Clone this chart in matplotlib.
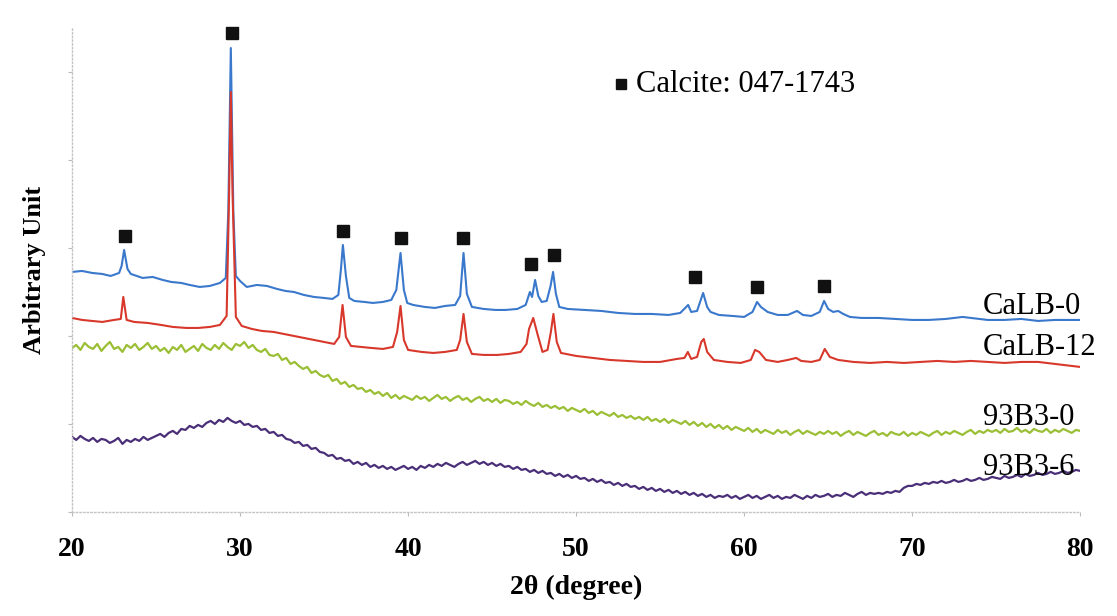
import matplotlib
matplotlib.use("Agg")
import matplotlib.pyplot as plt
import numpy as np

plt.rcParams["font.family"] = ["Liberation Serif", "DejaVu Serif"]

# CaLB-0 (blue)
calb0_x = [20.0, 20.6, 21.2, 21.8, 22.3, 22.8, 22.95, 23.1, 23.3, 23.5, 24.2, 24.8, 25.4, 25.9,
           26.5, 27.0, 27.6, 28.2, 28.8, 29.15, 29.3, 29.45, 29.6, 29.75, 30.0, 30.4, 31.0, 31.6,
           32.2, 32.7, 33.2, 33.8, 34.4, 35.0, 35.5, 35.85, 36.0, 36.12, 36.3, 36.5, 36.8, 37.4,
           37.9, 38.5, 39.0, 39.3, 39.55, 39.75, 39.95, 40.3, 41.0, 41.6, 42.2, 42.8, 43.1, 43.3,
           43.5, 43.8, 44.5, 45.2, 45.8, 46.5, 47.0, 47.25, 47.38, 47.56, 47.75, 47.95, 48.25,
           48.48, 48.63, 48.8, 49.0, 49.5, 50.5, 51.5, 52.5, 53.5, 54.5, 55.5, 56.2, 56.67, 56.85,
           57.2, 57.56, 57.8, 58.0, 58.5, 59.3, 60.0, 60.5, 60.77, 61.0, 61.4, 62.0, 62.6, 63.15,
           63.5, 64.0, 64.5, 64.76, 65.0, 65.3, 65.6, 65.9, 66.3, 67.0, 68.0, 69.0, 70.0, 71.0,
           72.0, 73.0, 73.5, 74.5, 75.5, 76.5, 77.5, 78.5, 80.0]
calb0_y = [240, 241, 239, 238, 236, 239, 246, 262, 243, 238, 234, 235, 232, 230,
           229, 227, 225, 226, 229, 234, 300, 464, 300, 236, 231, 225, 227, 226,
           223, 221, 220, 217, 215, 214, 213, 217, 242, 267, 236, 214, 211, 210,
           209, 210, 212, 222, 259, 222, 209, 207, 205, 204, 206, 207, 216, 259,
           218, 205, 203, 202, 202, 203, 207, 220, 215, 232, 216, 210, 211,
           226, 240, 218, 205, 203, 202, 201, 199, 198, 198, 197, 199, 207, 200,
           201, 219, 205, 200, 197, 196, 195, 200, 210, 205, 200, 197, 197, 201,
           197, 196, 200, 211, 203, 200, 201, 198, 195, 194, 194, 193, 192, 192,
           193, 195, 194, 192, 192, 193, 191, 192, 192]

# CaLB-12 (red)
calb12_x = [20.0, 20.6, 21.2, 21.8, 22.5, 22.9, 23.05, 23.25, 23.7, 24.5, 25.3, 26.0, 26.8,
            27.5, 28.2, 28.8, 29.2, 29.35, 29.45, 29.55, 29.75, 30.1, 30.7, 31.3, 32.0, 32.6,
            33.2, 33.8, 34.4, 35.0, 35.6, 35.9, 36.1, 36.3, 36.6, 37.2, 37.8, 38.5, 39.1, 39.35,
            39.55, 39.75, 40.0, 40.8, 41.5, 42.2, 42.9, 43.1, 43.3, 43.5, 43.8, 44.5, 45.3, 46.0,
            46.7, 47.05, 47.2, 47.45, 47.7, 48.0, 48.3, 48.5, 48.65, 48.85, 49.1, 50.0, 51.0,
            52.0, 53.0, 54.0, 55.0, 56.0, 56.45, 56.65, 56.85, 57.2, 57.45, 57.6, 57.8, 58.2,
            59.0, 59.8, 60.4, 60.65, 60.9, 61.3, 62.0, 62.6, 63.1, 63.4, 64.0, 64.5, 64.8, 65.1,
            65.6, 66.5, 67.5, 68.5, 69.5, 70.5, 71.5, 72.5, 73.5, 74.5, 75.5, 76.5, 77.5, 78.5,
            80.0]
calb12_y = [194, 192, 191, 190, 192, 193, 215, 192, 190, 189, 187, 185, 184,
            184, 185, 187, 196, 320, 420, 320, 195, 186, 183, 181, 180, 178,
            176, 174, 172, 170, 168, 175, 207, 175, 166, 165, 164, 163, 165, 180,
            206, 172, 162, 160, 159, 160, 162, 172, 198, 170, 158, 157, 157, 158,
            160, 168, 183, 194, 178, 160, 162, 180, 198, 170, 159, 156, 154,
            152, 151, 150, 150, 153, 154, 160, 153, 155, 170, 173, 160, 152,
            150, 149, 152, 162, 160, 152, 150, 152, 154, 151, 150, 152, 163, 155,
            152, 150, 149, 150, 149, 150, 151, 150, 151, 150, 149, 150, 150, 148,
            145]

# 93B3-0 (green), read every 0.25 degree
b30_x = np.arange(20.0, 80.01, 0.25)
b30_y = [164, 167, 162, 169, 165, 163, 168, 161, 166, 170, 163, 165, 160, 167, 164, 168, 162, 165, 169, 163,
         166, 161, 164, 159, 165, 162, 167, 160, 163, 166, 161, 168, 164, 162, 167, 163, 169, 165, 162, 168,
         166, 170, 164, 167, 162, 160, 163, 157, 156, 158, 152, 154, 148, 150, 146, 143, 145, 139, 141, 137,
         135, 137, 131, 133, 128, 130, 125, 127, 123, 124, 120, 122, 118, 120, 116, 119, 114, 117, 113, 116,
         114, 112, 116, 113, 115, 111, 114, 117, 113, 115, 111, 114, 116, 112, 114, 110, 113, 115, 111, 113,
         110, 113, 109, 112, 111, 108, 110, 107, 111, 108, 106, 109, 105, 107, 104, 106, 103, 105, 101, 104,
         102, 100, 103, 99, 101, 97, 100, 98, 96, 99, 95, 97, 94, 96, 93, 95, 92, 95, 91, 93,
         90, 93, 89, 92, 90, 88, 91, 87, 90, 86, 89, 85, 88, 84, 87, 83, 86, 82, 85, 83,
         81, 84, 80, 83, 79, 82, 80, 78, 82, 79, 81, 77, 80, 82, 78, 81, 79, 77, 80, 78,
         81, 78, 80, 76, 79, 81, 77, 80, 78, 76, 79, 81, 77, 79, 76, 80, 78, 77, 80, 76,
         79, 77, 80, 78, 76, 79, 81, 77, 80, 78, 81, 79, 77, 80, 82, 78, 81, 79, 82, 80,
         82, 79, 83, 80, 81, 84, 80, 82, 79, 83, 81, 80, 83, 79, 82, 80, 83, 81, 79, 82,
         81]

# 93B3-6 (purple), read every 0.25 degree
b36_x = np.arange(20.0, 80.01, 0.25)
b36_y = [75, 72, 76, 73, 71, 74, 70, 73, 72, 69, 71, 74, 68, 72, 70, 73, 71, 75, 72, 74,
         76, 78, 75, 79, 81, 78, 83, 82, 86, 84, 87, 85, 89, 91, 88, 92, 90, 94, 91, 89,
         91, 87, 88, 85, 86, 82, 83, 79, 80, 76, 77, 73, 72, 69, 70, 66, 67, 63, 64, 60,
         59, 56, 57, 53, 54, 51, 52, 48, 50, 47, 49, 45, 47, 44, 46, 43, 45, 42, 44, 46,
         43, 45, 42, 46, 44, 47, 45, 48, 46, 49, 47, 45, 48, 50, 47, 49, 51, 48, 50, 47,
         49, 46, 48, 45, 46, 43, 45, 42, 43, 40, 42, 39, 41, 38, 39, 36, 38, 35, 37, 34,
         36, 33, 34, 31, 33, 30, 32, 29, 30, 27, 29, 26, 28, 25, 26, 23, 25, 22, 24, 21,
         23, 20, 22, 19, 21, 18, 20, 17, 19, 16, 18, 15, 17, 14, 16, 15, 17, 14, 16, 13,
         15, 17, 14, 16, 13, 15, 17, 14, 16, 13, 15, 14, 17, 15, 13, 16, 14, 17, 15, 16,
         18, 15, 17, 16, 19, 17, 15, 18, 20, 17, 19, 18, 19, 18, 20, 19, 21, 20, 24, 26,
         26, 28, 27, 29, 28, 30, 29, 31, 29, 30, 32, 30, 31, 33, 31, 32, 34, 32, 33, 35,
         34, 33, 36, 34, 35, 37, 35, 38, 36, 37, 39, 37, 38, 40, 38, 39, 41, 39, 40, 42,
         41]

# calcite reflection markers
marker_x = [23.15, 29.52, 36.13, 39.58, 43.27, 47.32, 48.69, 57.08, 60.77, 64.76]
marker_y = [276, 479, 281, 274, 274, 248, 257, 235, 225, 226]

curve_names = ["CaLB-0", "CaLB-12", "93B3-0", "93B3-6"]
label_y = [205, 164, 94, 44]

fig = plt.figure(figsize=(11.17, 6.16), dpi=100)
ax = fig.add_axes([0.0645, 0.169, 0.9025, 0.7855])

ax.plot(calb0_x, calb0_y, color="#3a78cc", lw=1.5)
ax.plot(calb12_x, calb12_y, color="#d8382b", lw=1.5)
ax.plot(b30_x, b30_y, color="#9abf35", lw=1.6)
ax.plot(b36_x, b36_y, color="#4a2f78", lw=1.6)

ax.plot(marker_x, marker_y, "s", color="#111111", ms=8.5, ls="none", clip_on=False)

# legend-like note
ax.plot([52.68], [428], "s", color="#111111", ms=6.5, clip_on=False)
ax.text(53.55, 428, "Calcite: 047-1743", fontsize=22, va="center", ha="left")

for name, yy in zip(curve_names, label_y):
    ax.text(74.2, yy, name, fontsize=22, va="center", ha="left")

ax.set_xlim(20, 80)
ax.set_ylim(0, 484)
ax.set_xticks([20, 30, 40, 50, 60, 70, 80])
ax.set_yticks([0, 88, 176, 264, 352, 440])
ax.set_yticklabels([])
for lab in ax.get_xticklabels():
    lab.set_fontweight("bold")
ax.tick_params(axis="x", labelsize=20, length=3, color="#bbbbbb", pad=15)
ax.tick_params(axis="y", length=3, color="#bbbbbb")

for side in ["top", "right"]:
    ax.spines[side].set_visible(False)
for side in ["left", "bottom"]:
    ax.spines[side].set_color("#c4c4c4")
    ax.spines[side].set_linestyle(":")
    ax.spines[side].set_linewidth(1.0)

ax.set_xlabel("2θ (degree)", fontsize=20, fontweight="bold", labelpad=9)
ax.set_ylabel("Arbitrary Unit", fontsize=19, fontweight="bold", labelpad=12)

fig.savefig("out.png", dpi=100)
